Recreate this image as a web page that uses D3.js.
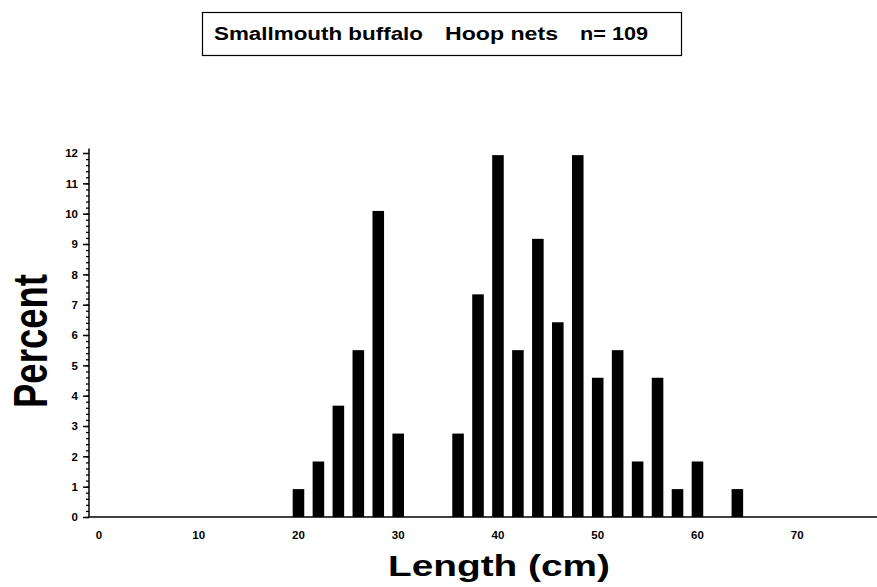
<!DOCTYPE html>
<html>
<head>
<meta charset="utf-8">
<script src="https://cdn.jsdelivr.net/npm/d3@7"></script>
<style>
  body { margin: 0; background: #fff; }
  text { font-family: "Liberation Sans", Arial, sans-serif; font-weight: bold; fill: #000; }
</style>
</head>
<body>
<div id="chart"></div>
<script>
// length classes (cm) and percent of fish in each
var lengths = [20, 22, 24, 26, 28, 30, 36, 38, 40, 42, 44, 46, 48, 50, 52, 54, 56, 58, 60, 64];
var percents = [0.92, 1.83, 3.67, 5.50, 10.09, 2.75, 2.75, 7.34, 11.93, 5.50, 9.17, 6.42, 11.93, 4.59, 5.50, 1.83, 4.59, 0.92, 1.83, 0.92];
var xTicks = [0, 10, 20, 30, 40, 50, 60, 70];
var yTicks = [0, 1, 2, 3, 4, 5, 6, 7, 8, 9, 10, 11, 12];
var titleParts = ["Smallmouth buffalo", "Hoop nets", "n= 109"];

var width = 877;
var height = 587;

var svg = d3.select('#chart')
    .append('svg')
    .attr('width', width)
    .attr('height', height);

var x = d3.scaleLinear().domain([-1, 78]).range([89, 877]);
var y = d3.scaleLinear().domain([0, 12]).range([517, 153]);
var barW = x(1.16) - x(0);

// title box
svg.append("rect")
    .attr("x", 202.5).attr("y", 12.5)
    .attr("width", 479).attr("height", 43)
    .attr("fill", "none").attr("stroke", "#000").attr("stroke-width", 1.2);

var titleX = [[214, 423], [445, 558], [580, 648]];
svg.append("g")
    .selectAll("text")
    .data(titleParts)
    .enter()
    .append("text")
    .attr("x", (d, i) => titleX[i][0])
    .attr("y", 40)
    .attr("font-size", 18)
    .attr("textLength", (d, i) => titleX[i][1] - titleX[i][0])
    .attr("lengthAdjust", "spacingAndGlyphs")
    .text(d => d);

// bars
svg.append("g")
    .selectAll("rect")
    .data(lengths)
    .enter()
    .append("rect")
    .attr("x", d => x(d) - barW / 2)
    .attr("y", (d, i) => y(percents[i]))
    .attr("width", barW)
    .attr("height", (d, i) => y(0) - y(percents[i]))
    .attr("fill", "#000");

// x axis line (no ticks)
svg.append("line")
    .attr("x1", x(-1)).attr("x2", x(78))
    .attr("y1", y(0)).attr("y2", y(0))
    .attr("stroke", "#000").attr("stroke-width", 1.5);

svg.append("g")
    .selectAll("text")
    .data(xTicks)
    .enter()
    .append("text")
    .attr("x", d => x(d))
    .attr("y", 539)
    .attr("text-anchor", "middle")
    .attr("font-size", 11.5)
    .text(d => d);

// y axis with major and minor ticks
var yAxis = svg.append("g")
    .attr("transform", "translate(" + x(-1) + ",0)");

yAxis.append("line")
    .attr("x1", 0).attr("x2", 0)
    .attr("y1", y(0)).attr("y2", y(12.15))
    .attr("stroke", "#000").attr("stroke-width", 1.5);

yAxis.append("g")
    .call(d3.axisLeft(y).tickValues(d3.range(0, 60).map(d => d / 5)).tickSize(3).tickFormat(""))
    .call(g => g.select(".domain").remove())
    .selectAll("line").attr("stroke-width", 1.3);

yAxis.append("g")
    .call(d3.axisLeft(y).tickValues(yTicks).tickSize(6).tickPadding(5))
    .call(g => g.select(".domain").remove())
    .call(g => g.selectAll("line").attr("stroke-width", 1.5))
    .call(g => g.selectAll("text")
        .attr("font-size", 11.5)
        .attr("font-family", "Liberation Sans, Arial, sans-serif")
        .attr("font-weight", "bold"));

// axis titles
svg.append("text")
    .attr("transform", "translate(" + 47 + "," + 341 + ") scale(1.4,1) rotate(-90)")
    .attr("text-anchor", "middle")
    .attr("font-size", 35)
    .attr("textLength", 134)
    .attr("lengthAdjust", "spacingAndGlyphs")
    .text("Percent");

svg.append("text")
    .attr("x", 388)
    .attr("y", 576)
    .attr("font-size", 30)
    .attr("textLength", 222)
    .attr("lengthAdjust", "spacingAndGlyphs")
    .text("Length  (cm)");
</script>
</body>
</html>
